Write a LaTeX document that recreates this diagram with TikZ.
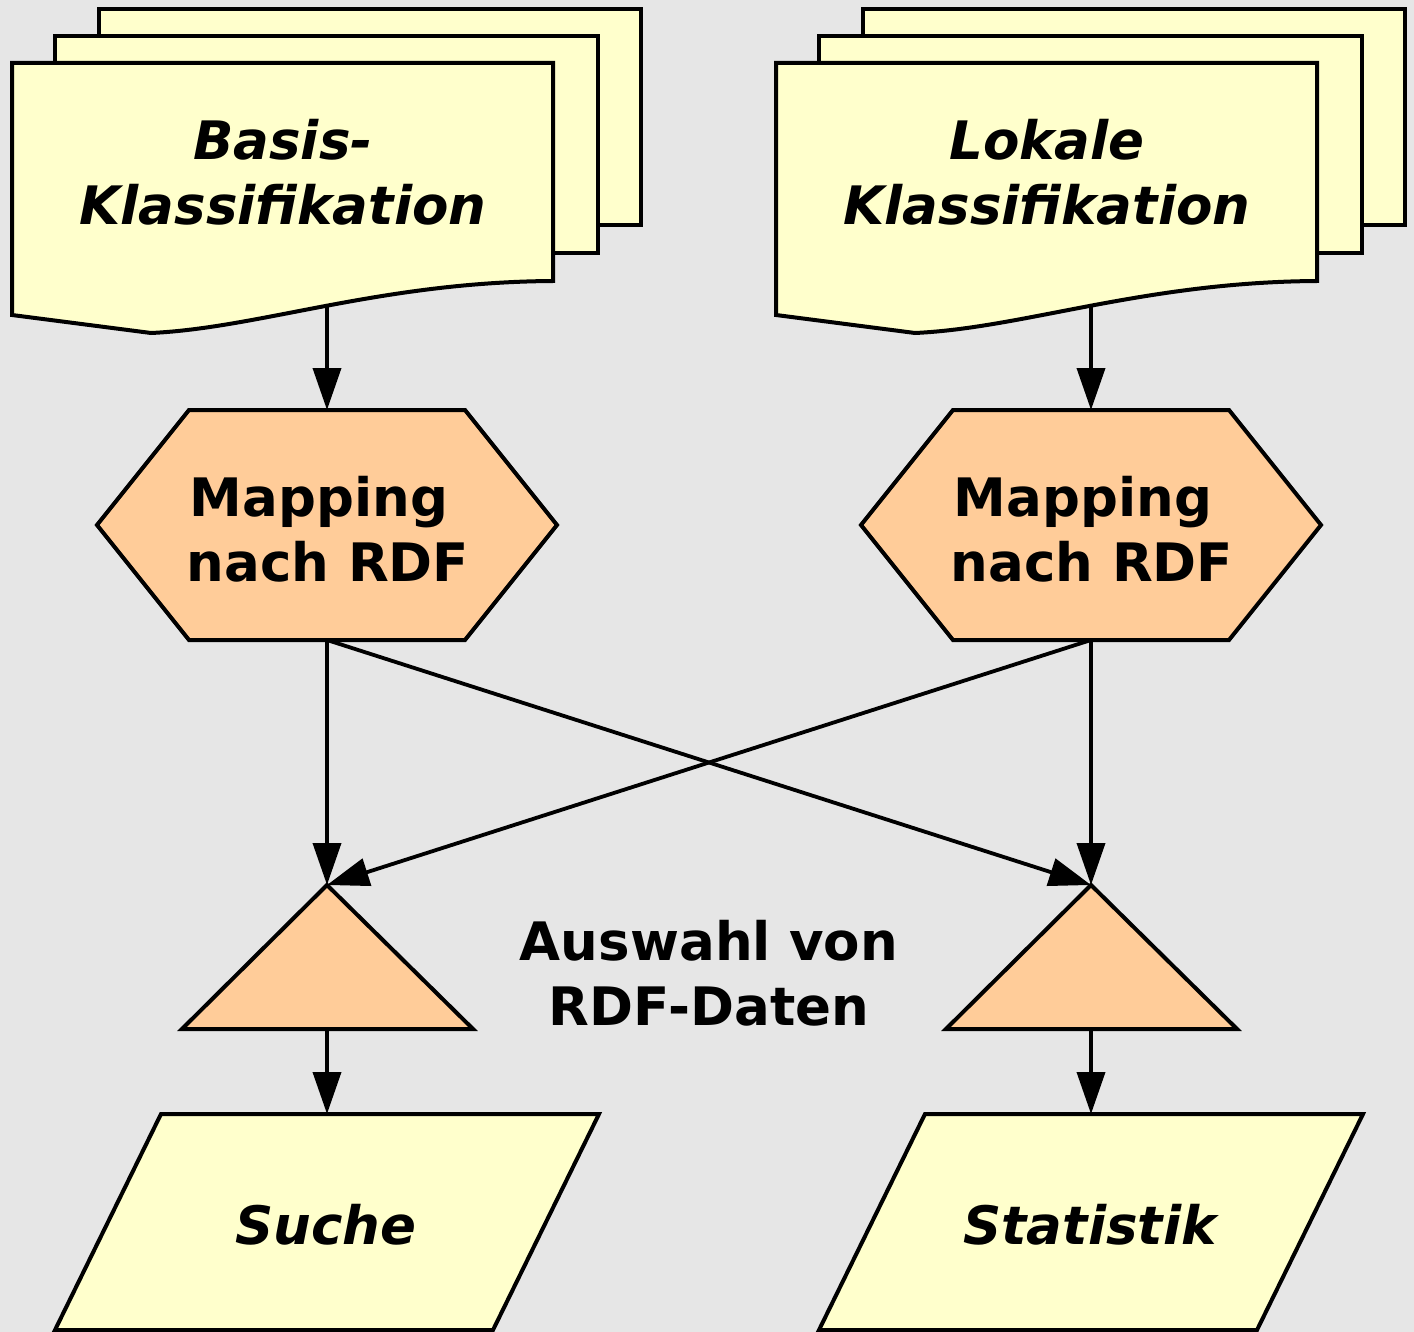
\documentclass[tikz,border=0pt]{standalone}
\usepackage{fontspec}
\setmainfont{DejaVu Sans}
\usetikzlibrary{arrows.meta}
\definecolor{bgc}{HTML}{E6E6E6}
\definecolor{docy}{HTML}{FFFFCC}
\definecolor{proco}{HTML}{FFCC99}
\newcommand\mytwo[2]{\begin{tabular}[t]{@{}c@{}}#1\\#2\end{tabular}}
\begin{document}
\begin{tikzpicture}[x=0.5pt,y=-0.5pt,
  shp/.style={draw=black, line width=2pt, line join=miter},
  docshp/.style={shp, fill=docy},
  procshp/.style={shp, fill=proco},
  txt/.style={font=\fontsize{26.5}{32.5}\selectfont\bfseries, inner sep=0pt, anchor=base},
  itxt/.style={txt, font=\fontsize{26.5}{32.5}\selectfont\bfseries\itshape},
  conn/.style={line width=1.9pt, -{Triangle[length=21pt,width=14pt]}}]
\fill[bgc] (0,0) rectangle (1414,1332);
\useasboundingbox (0,0) rectangle (1414,1332);

% ---------- left documents ----------
\draw[docshp] (99,9) rectangle (641,225);
\draw[docshp] (55,36) rectangle (598,253);
\draw[docshp] (12,63) -- (553,63) -- (553,281) .. controls (380,282) and (260,328) .. (151,333) -- (12,315) -- cycle;
\node[itxt] (docA) at (283,160) {\mytwo{Basis-}{Klassifikation}};
\coordinate (docA-out) at (327,306);

% ---------- right documents ----------
\draw[docshp] (863,9) rectangle (1405,225);
\draw[docshp] (819,36) rectangle (1362,253);
\draw[docshp] (776,63) -- (1317,63) -- (1317,281) .. controls (1144,282) and (1024,328) .. (915,333) -- (776,315) -- cycle;
\node[itxt] (docB) at (1047,160) {\mytwo{Lokale}{Klassifikation}};
\coordinate (docB-out) at (1091,306);

% ---------- hexagons ----------
\draw[procshp] (189,410) -- (465,410) -- (557,525) -- (465,640) -- (189,640) -- (97,525) -- cycle;
\node[txt] (hexA) at (328,516) {\mytwo{Mapping\kern.34em}{nach RDF}};
\coordinate (hexA-top) at (327,410);
\coordinate (hexA-bot) at (327,640);

\draw[procshp] (953,410) -- (1229,410) -- (1321,525) -- (1229,640) -- (953,640) -- (861,525) -- cycle;
\node[txt] (hexB) at (1092,516) {\mytwo{Mapping\kern.34em}{nach RDF}};
\coordinate (hexB-top) at (1091,410);
\coordinate (hexB-bot) at (1091,640);

% ---------- triangles ----------
\draw[procshp] (327,885) -- (473,1029) -- (182,1029) -- cycle;
\coordinate (triA-top) at (327,885);
\coordinate (triA-bot) at (327,1029);
\draw[procshp] (1091,885) -- (1237,1029) -- (946,1029) -- cycle;
\coordinate (triB-top) at (1091,885);
\coordinate (triB-bot) at (1091,1029);

\node[txt] (sel) at (709,960) {\mytwo{Auswahl von}{RDF-Daten}};

% ---------- parallelograms ----------
\draw[docshp] (161,1114) -- (599,1114) -- (493,1330) -- (55,1330) -- cycle;
\node[itxt] (outA) at (326,1244) {Suche};
\coordinate (paraA-top) at (327,1114);
\draw[docshp] (925,1114) -- (1363,1114) -- (1257,1330) -- (819,1330) -- cycle;
\node[itxt] (outB) at (1090,1244) {Statistik};
\coordinate (paraB-top) at (1091,1114);

% ---------- connectors ----------
\draw[conn] (docA-out) -- (hexA-top);
\draw[conn] (docB-out) -- (hexB-top);
\draw[conn] (hexA-bot) -- (triA-top);
\draw[conn] (hexB-bot) -- (triB-top);
\draw[conn] (hexA-bot) -- (triB-top);
\draw[conn] (hexB-bot) -- (triA-top);
\draw[conn] (triA-bot) -- (paraA-top);
\draw[conn] (triB-bot) -- (paraB-top);
\end{tikzpicture}
\end{document}
